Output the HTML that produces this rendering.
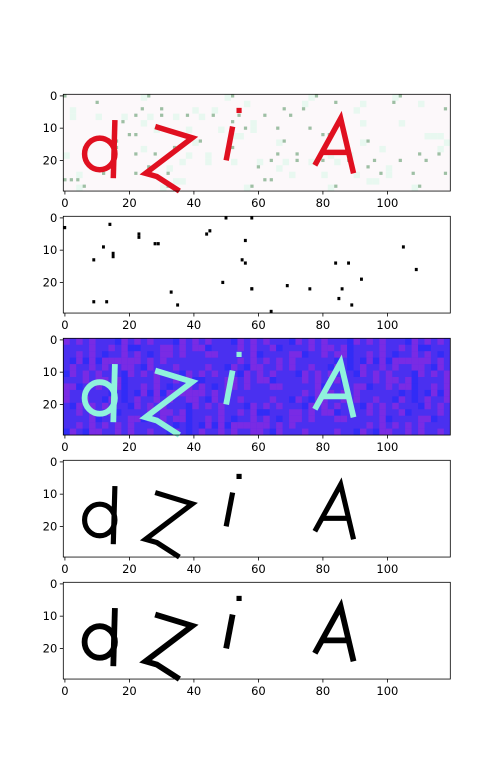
<!DOCTYPE html>
<html><head><meta charset="utf-8"><style>
html,body{margin:0;padding:0;background:#fff;}
svg text{font-family:"DejaVu Sans","Liberation Sans",sans-serif;font-size:11.5px;fill:#000;}
</style></head><body>
<svg id="fig" width="500" height="766" xmlns="http://www.w3.org/2000/svg"></svg>
<script>
const panelTops = [94.3, 216.3, 338.3, 460.3, 582.3];
const xTicks = [0, 20, 40, 60, 80, 100];
const yTicks = [0, 10, 20];
const imgW = 120, imgH = 30;
// letter strokes in image (pixel) coordinates
const dStem = [[16,8],[15.5,26]];
const dBowl = [11.3,18.5,4.7,4.9];
const zStroke = [[28.5,10],[40,13.5],[25.5,24.5],[29,25.5],[36,30]];
const iStroke = [[52.5,10],[50.5,20.5]];
const iDot = [54.5,5];
const aStroke = [[78,22],[86,7.5],[90,24.5]];
const aBar = [[80,18],[88,18]];
// panel 2 noise points (col,row)
const noiseX = [0,9,12,14,15,15,23,23,28,29,33,35,44,45,49,50,55,56,56,58,58,58,64,69,76,84,85,86,88,89,92,105,109,9,13];
const noiseY = [3,13,9,2,11,12,5,6,8,8,23,27,5,4,20,0,13,7,14,22,22,0,29,21,22,14,25,22,14,27,19,9,16,26,26];

const svg = document.getElementById('fig');
const NS = 'http://www.w3.org/2000/svg';
const X0 = 63.3, S = 3.225;
function mk(tag, attrs, parent){const e=document.createElementNS(NS,tag);for(const k in attrs)e.setAttribute(k,attrs[k]);(parent||svg).appendChild(e);return e;}
function sx(v){return X0 + v*S;}
function sy(top,v){return top + v*S;}
function pts(top, arr){return arr.map(p=>sx(p[0])+','+sy(top,p[1])).join(' ');}

const bgs = ['#fcf8fa', '#ffffff', '#4a30f0', '#ffffff', '#ffffff'];
const ink = ['#e01020', null, '#90f2dc', '#000', '#000'];
const widths = [1.7, 0, 1.8, 1.6, 1.8];

panelTops.forEach((top, k) => {
  const g = mk('g', {});
  
  
  mk('rect', {x:X0, y:top, width:imgW*S, height:imgH*S, fill:bgs[k]}, g);
  if (k === 2) {
    for (let r=0;r<imgH;r+=2) for (let c=0;c<imgW;c+=2){
      const h=(r*13+c*7+(r*c)%5)%9;
      if (h<3) mk('rect',{x:sx(c),y:sy(top,r),width:S*2,height:S*2,fill:'#8a2ae0',opacity:0.75},g);
      else if (h===4) mk('rect',{x:sx(c),y:sy(top,r),width:S*2,height:S*2,fill:'#2a2cf8',opacity:0.8},g);
    }
  }
  if (k === 0) {
    for (let r=0;r<imgH;r+=2) for (let c=0;c<imgW;c+=2){
      const h=(r*11+c*5+(r*c)%7)%13;
      if (h===0) mk('rect',{x:sx(c),y:sy(top,r),width:S,height:S,fill:'#5f9a6a',opacity:0.6},g);
      else if (h===3) mk('rect',{x:sx(c),y:sy(top,r),width:S*2,height:S*2,fill:'#e8f8f0'},g);
    }
  }
  if (k === 1) {
    noiseX.forEach((x,i)=>{
      const d = mk('rect',{x:sx(x),y:sy(top,noiseY[i]),width:S*0.9,height:S,fill:'#000'},g);
      
      
    });
  } else {
    const w = widths[k]*S, c = ink[k];
    const st = {fill:'none', stroke:c, 'stroke-width':w, 'stroke-linejoin':'miter'};
    const letters = mk('g', {}, g);
    
    
    mk('polyline', Object.assign({points:pts(top,dStem)}, st), letters);
    mk('ellipse', Object.assign({cx:sx(dBowl[0]), cy:sy(top,dBowl[1]), rx:dBowl[2]*S, ry:dBowl[3]*S}, st), letters);
    mk('polyline', Object.assign({points:pts(top,zStroke)}, st), letters);
    mk('polyline', Object.assign({points:pts(top,iStroke)}, st), letters);
    mk('rect', {x:sx(iDot[0]-0.8), y:sy(top,iDot[1]-0.8), width:1.6*S, height:1.6*S, fill:c}, letters);
    mk('polyline', Object.assign({points:pts(top,aStroke)}, st), letters);
    mk('polyline', Object.assign({points:pts(top,aBar)}, st), letters);
  }
  const frame = mk('rect', {x:X0, y:top, width:imgW*S, height:imgH*S, fill:'none', stroke:'#000', 'stroke-width':0.8}, g);
  
  
  const bottom = top + imgH*S;
  xTicks.forEach(t => {
    const x = sx(t+0.5);
    mk('line',{x1:x,y1:bottom,x2:x,y2:bottom+3.5,stroke:'#000','stroke-width':0.8},g);
    const tx = mk('text',{x:x,y:bottom+16,'text-anchor':'middle'},g);
    tx.textContent = t;
    
    
  });
  yTicks.forEach(t => {
    const y = sy(top, t+0.5);
    mk('line',{x1:X0-3.5,y1:y,x2:X0,y2:y,stroke:'#000','stroke-width':0.8},g);
    const ty = mk('text',{x:X0-6,y:y+4,'text-anchor':'end'},g);
    ty.textContent = t;
    
    
  });
});
</script>
</body></html>
